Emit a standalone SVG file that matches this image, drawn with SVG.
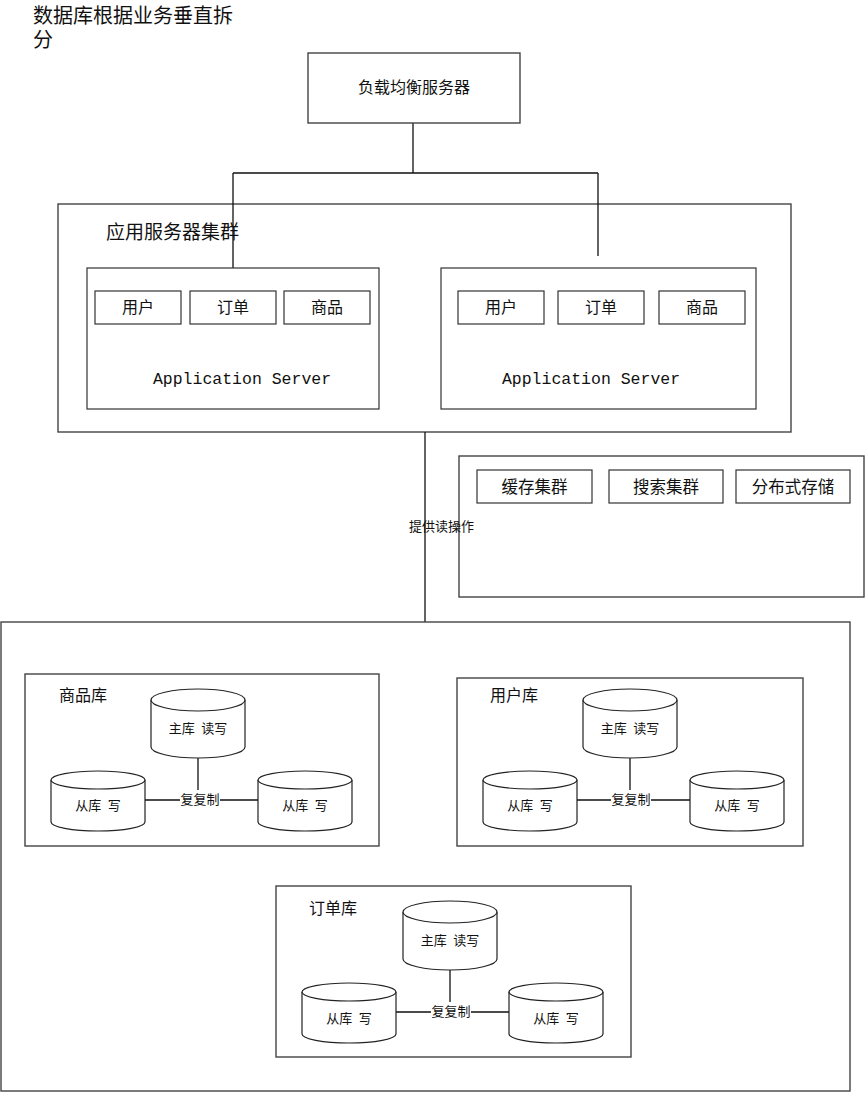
<svg xmlns="http://www.w3.org/2000/svg" width="866" height="1093" viewBox="0 0 866 1093">
<defs>
<style>
.box{fill:#fff;stroke:#444;stroke-width:1.4}
.in{fill:#fff;stroke:#333;stroke-width:1.2}
.ln{fill:none;stroke:#111;stroke-width:1.3}
.t{font-family:"Liberation Serif","Noto Sans CJK SC",serif;fill:#111}
.c{text-anchor:middle}
.mono{font-family:"Liberation Mono","Noto Sans CJK SC",monospace;fill:#111;font-size:16.5px;text-anchor:middle}
.cyl{fill:#fff;stroke:#222;stroke-width:1.2}
</style>
<g id="cyl-m">
<path class="cyl" d="M0,11 A47,11 0 0 1 94,11 L94,58 A47,11 0 0 1 0,58 Z"/>
<path class="cyl" d="M0,11 A47,11 0 0 0 94,11"/>
</g>
<g id="cyl-s">
<path class="cyl" d="M0,9 A47,9 0 0 1 94,9 L94,51 A47,9 0 0 1 0,51 Z"/>
<path class="cyl" d="M0,9 A47,9 0 0 0 94,9"/>
</g>
</defs>
<rect width="866" height="1093" fill="#fff"/>

<g id="title">
<text class="t" x="33" y="23" font-size="20">数据库根据业务垂直拆</text>
<text class="t" x="33" y="47" font-size="20">分</text>
</g>

<g id="cluster">
<rect class="box" x="58" y="204" width="733" height="228"/>
<text class="t" x="106" y="239" font-size="19">应用服务器集群</text>
</g>

<g id="connectors">
<path class="ln" d="M413,123 V173 M233,173 H598 M233,173 V268 M598,173 V256"/>
<path class="ln" d="M425,432 V622"/>
</g>

<g id="lb">
<rect class="box" x="308" y="53" width="212" height="70"/>
<text class="t c" x="414" y="93" font-size="16">负载均衡服务器</text>
</g>

<g id="app1">
<rect class="in" x="87" y="268" width="292" height="141"/>
<rect class="in" x="95" y="291" width="86" height="33"/>
<rect class="in" x="190" y="291" width="86" height="33"/>
<rect class="in" x="284" y="291" width="86" height="33"/>
<text class="t c" x="138" y="313" font-size="16">用户</text>
<text class="t c" x="233" y="313" font-size="16">订单</text>
<text class="t c" x="327" y="313" font-size="16">商品</text>
<text class="mono" x="242" y="384">Application Server</text>
</g>

<g id="app2">
<rect class="in" x="441" y="268" width="315" height="141"/>
<rect class="in" x="458" y="291" width="86" height="33"/>
<rect class="in" x="558" y="291" width="86" height="33"/>
<rect class="in" x="659" y="291" width="86" height="33"/>
<text class="t c" x="501" y="313" font-size="16">用户</text>
<text class="t c" x="601" y="313" font-size="16">订单</text>
<text class="t c" x="702" y="313" font-size="16">商品</text>
<text class="mono" x="591" y="384">Application Server</text>
</g>

<g id="infra">
<rect class="box" x="459" y="456" width="405" height="141"/>
<rect class="in" x="477" y="470" width="115" height="33"/>
<rect class="in" x="609" y="470" width="114" height="33"/>
<rect class="in" x="736" y="470" width="114" height="33"/>
<text class="t c" x="534.5" y="493" font-size="16.5">缓存集群</text>
<text class="t c" x="666" y="493" font-size="16.5">搜索集群</text>
<text class="t c" x="793" y="493" font-size="16.5">分布式存储</text>
</g>

<g id="read-label">
<text class="t" x="409" y="531" font-size="13">提供读操作</text>
</g>

<g id="db-cluster">
<rect class="box" x="1" y="622" width="849" height="469"/>
</g>

<g id="db-goods">
<rect class="box" x="25" y="674" width="354" height="172"/>
<text class="t" x="59" y="701" font-size="16">商品库</text>
<path class="ln" d="M198,758 V800 M145,800 H258"/>
<use href="#cyl-m" x="151" y="689"/>
<use href="#cyl-s" x="51" y="771"/>
<use href="#cyl-s" x="258" y="771"/>
<text class="t c" x="198" y="733" font-size="13" xml:space="preserve">主库  读写</text>
<text class="t c" x="98" y="810" font-size="13" xml:space="preserve">从库  写</text>
<text class="t c" x="305" y="810" font-size="13" xml:space="preserve">从库  写</text>
<rect x="180" y="790" width="40" height="17" fill="#fff"/>
<text class="t c" x="200" y="804" font-size="13">复复制</text>
</g>

<g id="db-user">
<rect class="box" x="457" y="678" width="346" height="168"/>
<text class="t" x="490" y="701" font-size="16">用户库</text>
<path class="ln" d="M630,758 V800 M577,800 H690"/>
<use href="#cyl-m" x="583" y="689"/>
<use href="#cyl-s" x="483" y="771"/>
<use href="#cyl-s" x="690" y="771"/>
<text class="t c" x="630" y="733" font-size="13" xml:space="preserve">主库  读写</text>
<text class="t c" x="530" y="810" font-size="13" xml:space="preserve">从库  写</text>
<text class="t c" x="737" y="810" font-size="13" xml:space="preserve">从库  写</text>
<rect x="611" y="790" width="40" height="17" fill="#fff"/>
<text class="t c" x="631" y="804" font-size="13">复复制</text>
</g>

<g id="db-order">
<rect class="box" x="276" y="886" width="355" height="171"/>
<text class="t" x="309" y="914" font-size="16">订单库</text>
<path class="ln" d="M450,970 V1012 M396,1012 H509"/>
<use href="#cyl-m" x="403" y="901"/>
<use href="#cyl-s" x="302" y="983"/>
<use href="#cyl-s" x="509" y="983"/>
<text class="t c" x="450" y="945" font-size="13" xml:space="preserve">主库  读写</text>
<text class="t c" x="349" y="1023" font-size="13" xml:space="preserve">从库  写</text>
<text class="t c" x="556" y="1023" font-size="13" xml:space="preserve">从库  写</text>
<rect x="431" y="1002" width="40" height="17" fill="#fff"/>
<text class="t c" x="451" y="1016" font-size="13">复复制</text>
</g>
</svg>
